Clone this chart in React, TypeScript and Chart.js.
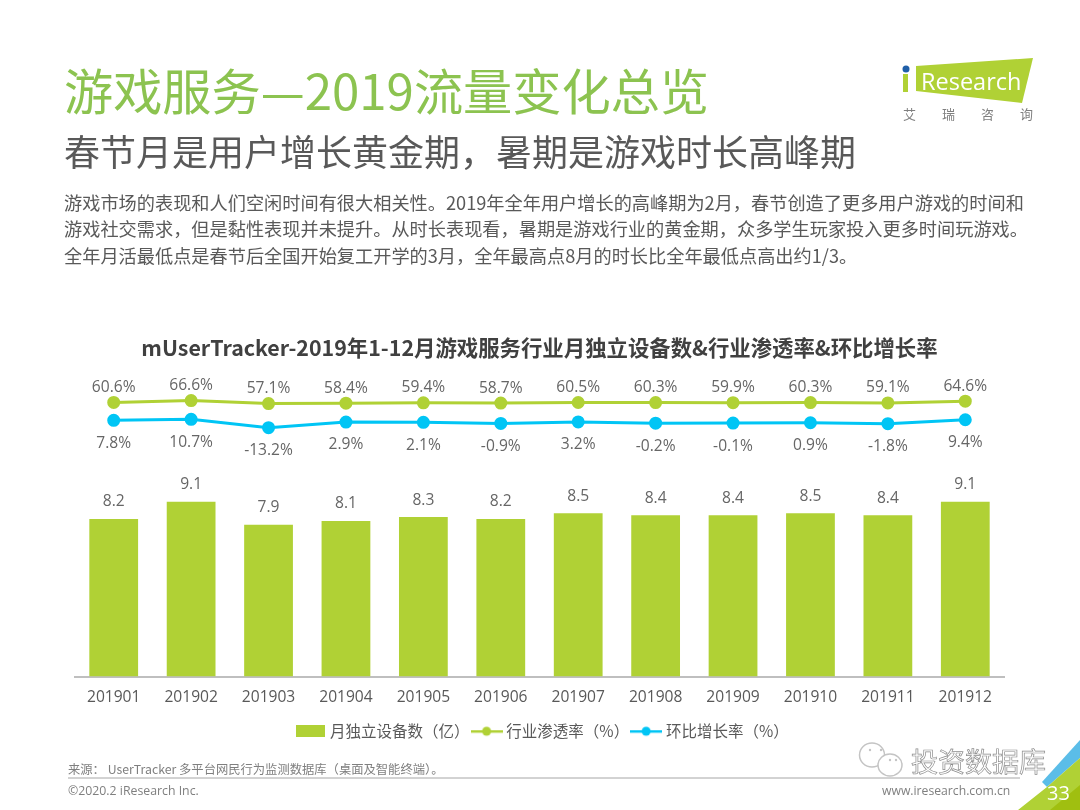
import React, {useEffect, useRef} from "react";
import {Chart, registerables} from "chart.js";

Chart.register(...registerables);

const months = ["201901", "201902", "201903", "201904", "201905", "201906", "201907", "201908", "201909", "201910", "201911", "201912"];
const devices = [8.2, 9.1, 7.9, 8.1, 8.3, 8.2, 8.5, 8.4, 8.4, 8.5, 8.4, 9.1];
const penetration = [60.6, 66.6, 57.1, 58.4, 59.4, 58.7, 60.5, 60.3, 59.9, 60.3, 59.1, 64.6];
const growth = [7.8, 10.7, -13.2, 2.9, 2.1, -0.9, 3.2, -0.2, -0.1, 0.9, -1.8, 9.4];

const GREEN = "#b0d135";
const BLUE = "#00c5f5";
const LABEL_FONT = '15.6px "Open Sans", "Noto Sans CJK SC", sans-serif';
const CJK = '"Noto Sans CJK SC", "Noto Sans", sans-serif';

// legend swatches, chart.js draws a canvas as point style
const swatch = (color: string, isLine: boolean) => {
    const c = document.createElement("canvas");
    c.width = isLine ? 32 : 29;
    c.height = 12;
    const ctx = c.getContext("2d");
    if (!ctx) return c;
    ctx.fillStyle = color;
    if (isLine) {
        ctx.fillRect(0, 5, 32, 2.5);
        ctx.beginPath();
        ctx.arc(16, 6, 4.5, 0, Math.PI * 2);
        ctx.fill();
    } else {
        ctx.fillRect(0, 0, 29, 12);
    }
    return c;
};

const valueLabels = {
    id: "valueLabels",
    // legend sits a bit right of the plot centre
    afterLayout(chart: any) {
        chart.legend.left += 4;
        chart.legend.right += 4;
    },
    afterDatasetsDraw(chart: Chart) {
        const ctx = chart.ctx;
        ctx.save();
        ctx.font = LABEL_FONT;
        ctx.fillStyle = "#666666";
        ctx.textAlign = "center";
        ctx.textBaseline = "middle";
        chart.data.datasets.forEach((ds, i) => {
            chart.getDatasetMeta(i).data.forEach((el, j) => {
                const v = ds.data[j] as number;
                if (i === 0) ctx.fillText(v.toFixed(1), el.x, el.y - 17);
                if (i === 1) ctx.fillText(v.toFixed(1) + "%", el.x, el.y - 15);
                if (i === 2) ctx.fillText(v.toFixed(1) + "%", el.x, el.y + 23);
            });
        });
        ctx.restore();
    },
};

function MainChart() {
    const chartRef = useRef<HTMLCanvasElement>(null);

    useEffect(() => {
        if (!chartRef.current) return;
        const legendLabels = [
            {text: "月独立设备数（亿）", color: GREEN, isLine: false},
            {text: "行业渗透率（%）", color: GREEN, isLine: true},
            {text: "环比增长率（%）", color: BLUE, isLine: true},
        ];
        const chart = new Chart(chartRef.current, {
            type: "bar",
            data: {
                labels: months,
                datasets: [
                    {
                        type: "bar",
                        label: legendLabels[0].text,
                        data: devices,
                        backgroundColor: GREEN,
                        barPercentage: 0.63,
                        categoryPercentage: 1,
                        yAxisID: "yBar",
                        order: 3,
                    },
                    {
                        type: "line",
                        label: legendLabels[1].text,
                        data: penetration,
                        borderColor: GREEN,
                        backgroundColor: GREEN,
                        borderWidth: 3,
                        pointRadius: 5,
                        yAxisID: "yRate",
                        order: 1,
                    },
                    {
                        type: "line",
                        label: legendLabels[2].text,
                        data: growth,
                        borderColor: BLUE,
                        backgroundColor: BLUE,
                        borderWidth: 3,
                        pointRadius: 5,
                        yAxisID: "yGrowth",
                        order: 2,
                    },
                ],
            },
            options: {
                animation: false,
                responsive: false,
                layout: {padding: {left: 75, right: 76, top: 335, bottom: 61}},
                plugins: {
                    title: {
                        display: true,
                        text: "mUserTracker-2019年1-12月游戏服务行业月独立设备数&行业渗透率&环比增长率",
                        color: "#404040",
                        font: {family: CJK, size: 21.4, weight: "bold"},
                        padding: {top: 0, bottom: 10},
                    },
                    legend: {
                        position: "bottom",
                        labels: {
                            color: "#595959",
                            font: {family: CJK, size: 15.5},
                            usePointStyle: true,
                            pointStyleWidth: 24,
                            boxHeight: 12,
                            padding: 5,
                            generateLabels: () => legendLabels.map((l, i) => ({
                                text: l.text,
                                datasetIndex: i,
                                fontColor: "#595959",
                                pointStyle: swatch(l.color, l.isLine),
                                lineWidth: 0,
                            })),
                        },
                    },
                    tooltip: {enabled: false},
                },
                scales: {
                    x: {
                        grid: {display: false, drawTicks: false},
                        border: {color: "#bfbfbf", width: 2},
                        ticks: {
                            color: "#595959",
                            font: {family: '"Open Sans", sans-serif', size: 15.6},
                            padding: 12,
                            maxRotation: 0,
                            autoSkip: false,
                        },
                        afterFit: (scale: any) => {
                            scale.height = 42;
                        },
                    },
                    yBar: {display: false, min: 0, max: 15.92},
                    yRate: {display: false, min: -802, max: 160.6},
                    yGrowth: {display: false, min: -719, max: 148.6},
                },
            },
            plugins: [valueLabels],
        } as any);

        return () => chart.destroy();
    }, []);

    return <canvas ref={chartRef} width={1080} height={810} style={{position: "absolute", left: 0, top: 0}} />;
}

const text = (left: number, top: number, size: number, color: string, extra: React.CSSProperties = {}): React.CSSProperties => ({
    position: "absolute",
    left,
    top,
    fontSize: size,
    color,
    lineHeight: 1,
    whiteSpace: "nowrap",
    fontFamily: CJK,
    ...extra,
});

export default function App() {
    useEffect(() => {
        document.body.style.margin = "0";
    }, []);

    return (
        <div style={{position: "absolute", left: 0, top: 0, width: 1080, height: 810, background: "#fff", overflow: "hidden"}}>
            <MainChart />

            <div style={text(64, 64, 49.2, "#8cc350")}>游戏服务—2019流量变化总览</div>
            <div style={text(64, 132, 36, "#595959")}>春节月是用户增长黄金期，暑期是游戏时长高峰期</div>
            <div style={text(64, 193, 18.2, "#595959")}>游戏市场的表现和人们空闲时间有很大相关性。2019年全年用户增长的高峰期为2月，春节创造了更多用户游戏的时间和</div>
            <div style={text(64, 219, 18.2, "#595959")}>游戏社交需求，但是黏性表现并未提升。从时长表现看，暑期是游戏行业的黄金期，众多学生玩家投入更多时间玩游戏。</div>
            <div style={text(64, 246, 18.2, "#595959")}>全年月活最低点是春节后全国开始复工开学的3月，全年最高点8月的时长比全年最低点高出约1/3。</div>

            <svg width={1080} height={810} style={{position: "absolute", left: 0, top: 0}}>
                <polygon points="916,66 1033,58 1022,103 916,91" fill={GREEN} />
                <rect x={903} y={74} width={5} height={18} fill={GREEN} />
                <circle cx={906} cy={69} r={3.5} fill="#1f5fa8" />
                <line x1={68} y1={778} x2={1020} y2={778} stroke="#a6a6a6" strokeWidth={1} />
                <polygon points="1080,740 1042,782 1047,787 1080,758" fill="#5bbde8" />
                <polygon points="1047,787 1080,758 1080,810 1018,810" fill={GREEN} />
                <polygon points="1050,810 1080,785 1080,810" fill="#a0bf10" />
                <g fill="#fff" stroke="#c4c4c4" strokeWidth={1.5}>
                    <ellipse cx={872} cy={755} rx={12.5} ry={12} />
                    <ellipse cx={890} cy={765} rx={12} ry={11} />
                </g>
                <g fill="#c4c4c4">
                    <circle cx={870} cy={750} r={1.2} />
                    <circle cx={881} cy={750} r={1.2} />
                    <circle cx={890} cy={760} r={1.2} />
                    <circle cx={896} cy={760} r={1.2} />
                </g>
            </svg>
            <div style={text(921, 70, 23.5, "#fff", {fontFamily: '"Open Sans", sans-serif'})}>Research</div>
            <div style={text(903, 107, 13, "#7f7f7f", {letterSpacing: 26})}>艾瑞咨询</div>

            <div style={text(68, 763, 12.3, "#7f7f7f")}>来源： UserTracker 多平台网民行为监测数据库（桌面及智能终端）。</div>
            <div style={text(68, 785, 12.3, "#7f7f7f", {fontFamily: '"Open Sans", sans-serif'})}>©2020.2 iResearch Inc.</div>
            <div style={text(882, 785, 12.2, "#7f7f7f", {fontFamily: '"Open Sans", sans-serif'})}>www.iresearch.com.cn</div>
            <div style={text(1047, 783, 20, "#fff", {fontFamily: '"Open Sans", sans-serif'})}>33</div>
            <div style={text(911, 747, 27, "#ffffff", {WebkitTextStroke: "0.7px #8c8c8c"})}>投资数据库</div>
        </div>
    );
}
